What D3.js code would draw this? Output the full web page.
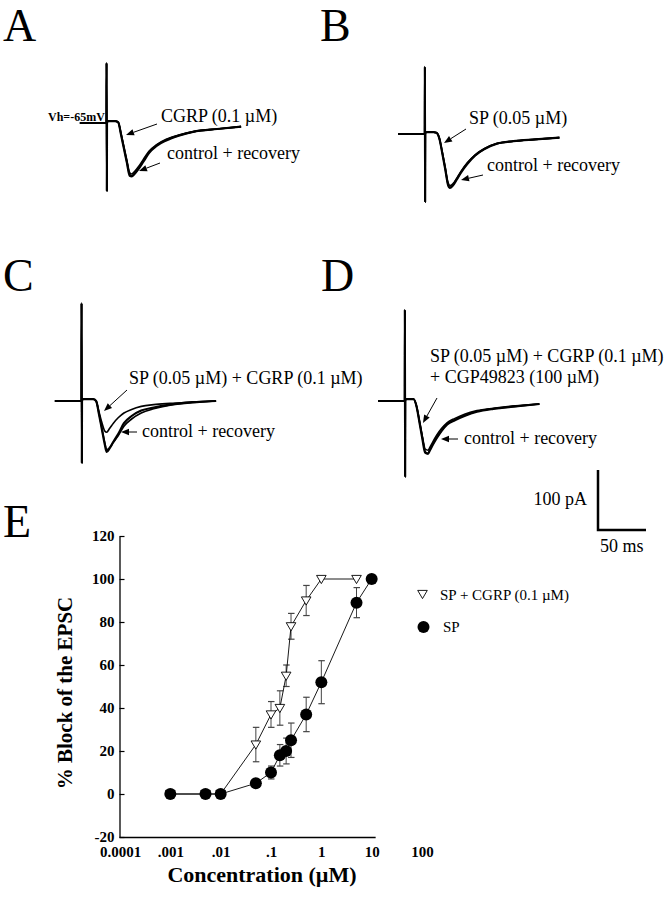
<!DOCTYPE html>
<html><head><meta charset="utf-8">
<script src="https://cdn.jsdelivr.net/npm/d3@7"></script>
<style>
body{margin:0;background:#fff}
svg{display:block}
text{font-family:"Liberation Serif","Times New Roman",serif;fill:#000}
</style>
</head><body><svg id="fig" width="671" height="900"></svg>
<script>
// ---------- Trace data (time in ms relative to stimulus, current in pA) ----------
const traceTime = [-28, -0.3, -0.15, 0.15, 0.3, 2, 5, 9, 12, 15, 18, 21, 24, 26, 29, 33, 38, 44, 52, 62, 75, 92, 115, 140];

const aControl  = [0,0,100,-113,2,3,3,3,1,-20,-43,-66,-88,-89,-85,-77,-65,-50,-38,-29,-21,-14,-10,-6];
const aRecovery = [0,0,100,-113,2,3,3,3,1,-19,-42,-65,-86,-88,-84,-76,-63,-49,-37,-28,-21,-14,-10,-6];
const aDrug     = [0,0,100,-113,2,3,3,3,1,-18,-40,-62,-83,-85,-81,-73,-61,-47,-36,-27,-20,-14,-10,-6];

const bControl  = [0,0,112,-113,2,3,3,3,2,-8,-32,-58,-85,-90,-86,-76,-63,-50,-36,-25,-16,-12,-9,-6];
const bRecovery = [0,0,112,-113,2,3,3,3,2,-8,-31,-57,-84,-89,-85,-75,-62,-49,-36,-25,-16,-12,-9,-6];
const bDrug     = [0,0,112,-113,2,3,3,3,2,-7,-30,-55,-81,-86,-83,-74,-61,-48,-35,-24,-16,-12,-9,-6];

const cControl  = [0,0,163,-103,2,3,3,3,3,0,-22,-47,-72,-85,-79,-68,-55,-37,-25,-16,-11,-6,-2,0];
const cRecovery = [0,0,163,-103,2,3,3,3,3,0,-21,-45,-69,-81,-78,-69,-58,-42,-30,-20,-13,-7,-3,0];
const cDrug     = [0,0,163,-103,2,3,3,3,3,0,-18,-36,-50,-52,-46,-37,-28,-20,-14,-9,-6,-4,-2,0];

const dControl  = [0,0,152,-126,2,3,3,3,-9,-35,-62,-86,-88,-82,-73,-62,-50,-39,-32,-25,-18,-13,-9,-5];
const dRecovery = [0,0,152,-126,2,3,3,3,-9,-34,-60,-84,-87,-81,-72,-61,-49,-38,-31,-24,-17,-13,-9,-5];
const dDrug     = [0,0,152,-126,2,3,3,3,-8,-32,-58,-80,-82,-77,-68,-57,-46,-36,-29,-22,-16,-12,-8,-5];

const scaleBarPA = 100;
const scaleBarMS = 50;

// ---------- Dose-response data (panel E) ----------
const concSP      = [0.001, 0.005, 0.01, 0.05, 0.1, 0.15, 0.2, 0.25, 0.5, 1, 5, 10];
const blockSP     = [0, 0, 0, 5, 10, 18, 20, 25, 37, 52, 89, 100];
const errSP       = [0, 0, 0, 0, 3, 5, 6, 8, 8, 10, 7, 0];

const concSPCGRP  = [0.001, 0.005, 0.01, 0.05, 0.1, 0.15, 0.2, 0.25, 0.5, 1, 5];
const blockSPCGRP = [0, 0, 0, 23, 37, 40, 55, 78, 90, 100, 100];
const errSPCGRP   = [0, 0, 0, 8, 6, 8, 5, 6, 7, 0, 0];

const xTickValues = [0.0001, 0.001, 0.01, 0.1, 1, 10, 100];
const xTickLabels = ["0.0001", ".001", ".01", ".1", "1", "10", "100"];
const yTickValues = [-20, 0, 20, 40, 60, 80, 100, 120];
const yTickLabels = ["-20", "0", "20", "40", "60", "80", "100", "120"];

const legendLabels = ["SP + CGRP (0.1 \u00b5M)", "SP"];

// ---------- Drawing ----------
const svg = d3.select("#fig");

// panel letters
[["A",3,41],["B",320,41],["C",3,291],["D",321,291],["E",3,537]].forEach(([t,x,y])=>{
  svg.append("text").attr("x",x).attr("y",y).attr("font-size",46)
    .attr("font-family","Liberation Serif").text(t);
});

function arrow(x1,y1,x2,y2){
  const ang = Math.atan2(y2-y1,x2-x1);
  const L = 8, W = 3.2;
  const bx = x2 - L*Math.cos(ang), by = y2 - L*Math.sin(ang);
  svg.append("line").attr("x1",x1).attr("y1",y1).attr("x2",bx).attr("y2",by)
    .attr("stroke","#000").attr("stroke-width",1);
  const px = -Math.sin(ang)*W, py = Math.cos(ang)*W;
  svg.append("path").attr("d",`M${x2},${y2}L${bx+px},${by+py}L${bx-px},${by-py}Z`).attr("fill","#000");
}

function label(x,y,t,size,weight){
  svg.append("text").attr("x",x).attr("y",y).attr("font-size",size||18)
    .attr("font-weight",weight||"normal").text(t);
}

function drawTraces(ax, ay, series){
  const xs = d3.scaleLinear().domain([0, scaleBarMS]).range([ax, ax + 48]);
  const ys = d3.scaleLinear().domain([0, -scaleBarPA]).range([ay, ay + 60]);
  const line = d3.line().x((d,i)=>xs(traceTime[i])).y(d=>ys(d)).curve(d3.curveMonotoneX);
  series.forEach((s,k)=>{
    svg.append("path").attr("d",line(s)).attr("fill","none")
      .attr("stroke","#000").attr("stroke-width",k===0?2.2:1.6).attr("stroke-linejoin","round");
  });
}

// Panel A
drawTraces(106.7, 123, [aControl, aRecovery, aDrug]);
label(48, 121, "Vh=-65mV", 12, "bold");
label(161, 122, "CGRP (0.1 \u00b5M)");
arrow(157,124,126,135);
label(167, 159, "control + recovery");
arrow(160,163,139,171);

// Panel B
drawTraces(425, 134, [bControl, bRecovery, bDrug]);
label(469, 124, "SP (0.05 \u00b5M)");
arrow(466,129,444,143);
label(487, 171, "control + recovery");
arrow(483,175,461,180);

// Panel C
drawTraces(81.7, 401, [cControl, cRecovery, cDrug]);
label(129, 384, "SP (0.05 \u00b5M) + CGRP (0.1 \u00b5M)");
arrow(127,390,104,411);
label(142, 437, "control + recovery");
arrow(137,432,121,432);

// Panel D
drawTraces(405, 401, [dControl, dRecovery, dDrug]);
label(430, 362, "SP (0.05 \u00b5M) + CGRP (0.1 \u00b5M)");
label(430, 383, "+ CGP49823 (100 \u00b5M)");
arrow(437,398,423,423);
label(464, 444, "control + recovery");
arrow(458,439,441,439);

// Scale bar
const sbX = d3.scaleLinear().domain([0, scaleBarMS]).range([598, 646]);
const sbY = d3.scaleLinear().domain([0, scaleBarPA]).range([530, 470]);
svg.append("path")
  .attr("d",`M${sbX(0)},${sbY(scaleBarPA)}L${sbX(0)},${sbY(0)}L${sbX(scaleBarMS)},${sbY(0)}`)
  .attr("fill","none").attr("stroke","#000").attr("stroke-width",2.5);
svg.append("text").attr("x",587).attr("y",505).attr("text-anchor","end").attr("font-size",18).text(scaleBarPA+" pA");
svg.append("text").attr("x",600).attr("y",552).attr("font-size",18).text(scaleBarMS+" ms");

// ---------- Panel E ----------
const x = d3.scaleLog().domain([0.0001, 100]).range([120, 422]);
const y = d3.scaleLinear().domain([-20, 120]).range([837, 536]);
const gE = svg.append("g");

// axes
const yAxis = d3.axisLeft(y).tickValues(yTickValues).tickFormat((d,i)=>yTickLabels[i])
  .tickSizeInner(-5).tickSizeOuter(0).tickPadding(5);
const gy = gE.append("g").attr("transform","translate(119.5,0)").call(yAxis);
gy.select(".domain").attr("stroke","#000").attr("stroke-width",1.3);
gy.selectAll(".tick line").attr("stroke","#000").attr("stroke-width",1.2);
gy.selectAll(".tick text").attr("font-family","Liberation Serif").attr("font-weight","bold").attr("font-size",15).attr("fill","#000");

const xAxis = d3.axisBottom(x).tickValues(xTickValues).tickFormat((d,i)=>xTickLabels[i]).tickSize(0).tickPadding(9);
const gx = gE.append("g").attr("transform","translate(0,837.5)").call(xAxis);
gx.select(".domain").remove();
gx.selectAll(".tick text").attr("font-family","Liberation Serif").attr("font-weight","bold").attr("font-size",15).attr("fill","#000");
gE.append("line").attr("x1",119.5).attr("x2",x(12)).attr("y1",837.5).attr("y2",837.5)
  .attr("stroke","#000").attr("stroke-width",1.3);

// axis titles
gE.append("text").attr("transform","translate(72,693) rotate(-90)").attr("text-anchor","middle")
  .attr("font-weight","bold").attr("font-size",21).text("% Block of the EPSC");
gE.append("text").attr("x",262).attr("y",882).attr("text-anchor","middle")
  .attr("font-weight","bold").attr("font-size",22).text("Concentration (\u00b5M)");

// error bars
function errorBars(conc, val, err){
  conc.forEach((c,i)=>{
    if(!err[i]) return;
    const cx = x(c), y1 = y(val[i]+err[i]), y2 = y(val[i]-err[i]);
    gE.append("line").attr("x1",cx).attr("x2",cx).attr("y1",y1).attr("y2",y2).attr("stroke","#444").attr("stroke-width",1);
    [y1,y2].forEach(yy=>gE.append("line").attr("x1",cx-3).attr("x2",cx+3.5).attr("y1",yy).attr("y2",yy).attr("stroke","#444").attr("stroke-width",1.2));
  });
}
errorBars(concSPCGRP, blockSPCGRP, errSPCGRP);
errorBars(concSP, blockSP, errSP);

const ln = d3.line();
gE.append("path").attr("d", ln(concSPCGRP.map((c,i)=>[x(c),y(blockSPCGRP[i])])))
  .attr("fill","none").attr("stroke","#000").attr("stroke-width",0.9);
gE.append("path").attr("d", ln(concSP.map((c,i)=>[x(c),y(blockSP[i])])))
  .attr("fill","none").attr("stroke","#000").attr("stroke-width",0.9);

const triPath = "M-4.8,-3.6L4.8,-3.6L0,4.6Z";
concSPCGRP.forEach((c,i)=>{
  gE.append("path").attr("d",triPath).attr("transform",`translate(${x(c)},${y(blockSPCGRP[i])})`)
    .attr("fill","#fff").attr("stroke","#000").attr("stroke-width",0.9);
});
concSP.forEach((c,i)=>{
  gE.append("circle").attr("cx",x(c)).attr("cy",y(blockSP[i])).attr("r",6).attr("fill","#000");
});

// legend
gE.append("path").attr("d",triPath).attr("transform","translate(422.5,594)")
  .attr("fill","#fff").attr("stroke","#000").attr("stroke-width",0.9);
gE.append("text").attr("x",440).attr("y",599.5).attr("font-size",15).text(legendLabels[0]);
gE.append("circle").attr("cx",423.5).attr("cy",627).attr("r",6).attr("fill","#000");
gE.append("text").attr("x",443).attr("y",631.5).attr("font-size",15).text(legendLabels[1]);
</script></body></html>
